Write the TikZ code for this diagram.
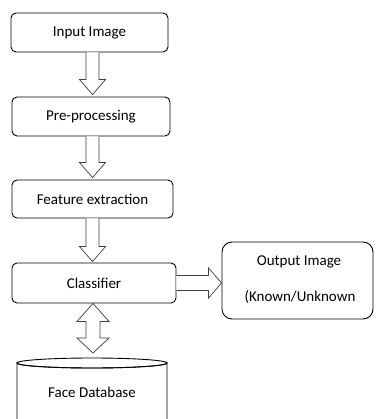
\documentclass[tikz,border=0pt]{standalone}
\usepackage{fontspec}
\setmainfont{Carlito}
\usetikzlibrary{calc}
\tikzset{
  txt/.style={font=\fontsize{15}{18}\selectfont},
  box/.style={draw=black, line width=0.9pt, rounded corners=5pt, fill=white, txt},
  fatarrow/.style={draw=black!75, line width=0.7pt, fill=white, line join=miter},
}
\newcommand\vfat[3]{% #1 top, #2 tip, #3 x
  \draw[fatarrow] let \p1=#1, \p2=#2 in
   (#3-6.5pt,\y1) -- (#3-6.5pt,\y2+15pt) -- (#3-13pt,\y2+15pt) -- (#3,\y2)
   -- (#3+13pt,\y2+15pt) -- (#3+6.5pt,\y2+15pt) -- (#3+6.5pt,\y1);}
\begin{document}
\begin{tikzpicture}[x=1pt,y=-1pt]
\useasboundingbox (0,0) rectangle (375,419);
\node[box, minimum width=157pt, minimum height=39pt] (in) at (89.5,32.5) {Input Image};
\node[box, minimum width=158pt, minimum height=39pt] (pre) at (91,116.5) {Pre-processing};
\node[box, minimum width=161pt, minimum height=38pt] (fe) at (92.5,199) {Feature extraction};
\node[box, minimum width=164pt, minimum height=40pt] (cls) at (94,283) {Classifier};
\node[box, rounded corners=10pt, minimum width=151pt, minimum height=77pt] (out) at (297.5,280.5) {};
\node[txt] (o1) at (299,262) {Output Image};
\node[txt] (o2) at (300,297) {(Known/Unknown};
% database cylinder
\begin{scope}
\clip (0,0) rectangle (375,419);
\draw[line width=0.9pt, fill=white] (17pt,-425pt) -- (17pt,-363pt) arc[start angle=180,end angle=360,x radius=75pt,y radius=5pt] -- (167pt,-425pt);
\draw[line width=0.9pt] (92pt,-363pt) ellipse[x radius=75pt, y radius=5pt];
\end{scope}
\coordinate (dbtop) at (93,353);
\node[txt] (db) at (92,392) {Face Database};
% arrows
\vfat{(in.south)}{($(pre.north)+(0,-2)$)}{92.5pt}
\vfat{(pre.south)}{($(fe.north)+(0,-2)$)}{92.5pt}
\vfat{(fe.south)}{($(cls.north)+(0,-1)$)}{92.5pt}
\draw[fatarrow] let \p1=(cls.south), \p2=(dbtop) in
  (93pt,\y1) -- (93pt+16pt,\y1-18pt) -- (93pt+7pt,\y1-18pt) -- (93pt+7pt,\y2+15pt)
  -- (93pt+16pt,\y2+15pt) -- (93pt,\y2) -- (93pt-16pt,\y2+15pt) -- (93pt-7pt,\y2+15pt)
  -- (93pt-7pt,\y1-18pt) -- (93pt-16pt,\y1-18pt) -- cycle;
\draw[fatarrow] let \p1=(cls.east), \p2=(out.west) in
  (\x1,\y1+7.5pt) -- (\x2-13pt,\y1+7.5pt) -- (\x2-13pt,\y1+15pt) -- (\x2,\y1)
  -- (\x2-13pt,\y1-15pt) -- (\x2-13pt,\y1-7.5pt) -- (\x1,\y1-7.5pt);
\end{tikzpicture}
\end{document}
